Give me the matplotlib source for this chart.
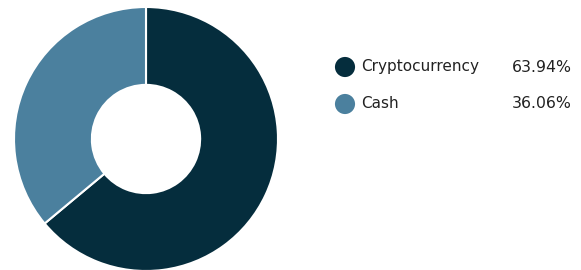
import matplotlib
matplotlib.use("Agg")
import matplotlib.pyplot as plt

categories = ["Cryptocurrency", "Cash"]
values = [63.94, 36.06]
colors = ["#052d3d", "#4b809e"]

W, H = 581, 270
fig = plt.figure(figsize=(W / 100, H / 100), dpi=100)
fig.patch.set_facecolor("white")

cx, cy, r = 146, 139, 132
ax = fig.add_axes([(cx - r) / W, (H - cy - r) / H, 2 * r / W, 2 * r / H])
ax.pie(values, colors=colors, startangle=90, counterclock=False, radius=1,
       wedgeprops=dict(width=0.59, edgecolor="white", linewidth=1.5))
ax.set_xlim(-1, 1)
ax.set_ylim(-1, 1)
ax.set_aspect("equal")
ax.axis("off")

lax = fig.add_axes([0, 0, 1, 1])
lax.set_xlim(0, W)
lax.set_ylim(H, 0)
lax.axis("off")
ys = [67, 104]
for cat, val, col, y in zip(categories, values, colors, ys):
    lax.scatter([345], [y], s=210, color=col, edgecolors="none")
    lax.text(361, y, cat, fontsize=11, color="#222222", va="center", ha="left",
             family="DejaVu Sans")
    lax.text(572, y, f"{val:.2f}%", fontsize=11.3, color="#222222", va="center",
             ha="right", family="DejaVu Sans")

fig.savefig("out.png", dpi=100)
